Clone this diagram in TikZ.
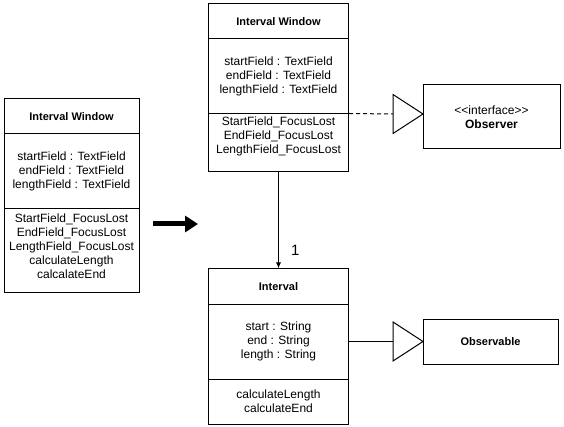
\documentclass[tikz,border=0pt]{standalone}
\usepackage{fontspec}
\setmainfont{Liberation Sans}
\usetikzlibrary{arrows.meta}
\begin{document}
\begin{tikzpicture}[x=1pt,y=-1pt,
  comp/.style={draw=black, line width=1pt, inner sep=0pt, rectangle},
  ttl/.style={font=\fontsize{11}{13}\selectfont\bfseries},
  txt/.style={font=\fontsize{12}{14}\selectfont, align=center},
  plain/.style={inner sep=0pt, txt},
  gen/.style={draw=black, line width=1pt, fill=white, line join=miter},
  conn/.style={draw=black, line width=1pt}]
\useasboundingbox[fill=white] (0,0) rectangle (564,427);
% left class
\node[comp, ttl, minimum width=135pt, minimum height=35pt] (lwh) at (71.5,116.5) {Interval Window};
\node[comp, txt, minimum width=135pt, minimum height=75pt] (lwa) at (71.5,171.5) {startField : TextField\\endField : TextField\\lengthField : TextField};
\node[comp, minimum width=135pt, minimum height=83pt] (lwm) at (71.5,250.5) {};
\node[plain] (lwmt) at (71.5,246) {StartField\_FocusLost\\EndField\_FocusLost\\LengthField\_FocusLost\\calculateLength\\calcalateEnd};
% top class
\node[comp, ttl, minimum width=140pt, minimum height=35pt] (twh) at (278.5,21.5) {Interval Window};
\node[comp, txt, minimum width=140pt, minimum height=75pt] (twa) at (278.5,76.5) {startField : TextField\\endField : TextField\\lengthField : TextField};
\node[comp, minimum width=140pt, minimum height=58pt] (twm) at (278.5,143) {};
\node[plain] (twmt) at (278.5,136) {StartField\_FocusLost\\EndField\_FocusLost\\LengthField\_FocusLost};
% interval class
\node[comp, ttl, minimum width=140pt, minimum height=35pt] (ivh) at (278.5,286.5) {Interval};
\node[comp, txt, minimum width=140pt, minimum height=75pt] (iva) at (278.5,341.5) {start : String\\end : String\\length : String};
\node[comp, txt, minimum width=140pt, minimum height=45pt] (ivm) at (278.5,401.5) {calculateLength\\calculateEnd};
% observer
\node[comp, txt, minimum width=137pt, minimum height=64pt] (obs) at (491.5,117) {{<}{<}interface{>}{>}\\\textbf{Observer}};
% observable
\node[comp, ttl, minimum width=135pt, minimum height=45pt] (obl) at (490.5,341.5) {Observable};
% association
\draw[conn, -{Latex[length=6pt,width=5pt]}] (twm.south) -- (ivh.north)
  node[pos=0.81, right=12pt, font=\fontsize{15}{17}\selectfont, inner sep=0pt] (one) {1};
% realization to observer
\coordinate (t1tip) at (423,114);
\coordinate (t1b) at (393,114);
\draw[conn, dash pattern=on 4pt off 3pt] (twm.north east) -- (t1b);
\draw[gen] (t1tip) -- (393,94.5) -- (393,133.5) -- cycle;
% generalization to observable
\coordinate (t2tip) at (423,341.5);
\coordinate (t2b) at (393,341.5);
\draw[conn] (iva.east) -- (t2b);
\draw[gen] (t2tip) -- (393,322) -- (393,361) -- cycle;
% thick transformation arrow
\coordinate (ta) at (153,224);
\coordinate (tb) at (198,224);
\draw[line width=5pt, -{Triangle[length=13pt,width=16pt]}] (ta) -- (tb);
\end{tikzpicture}
\end{document}
